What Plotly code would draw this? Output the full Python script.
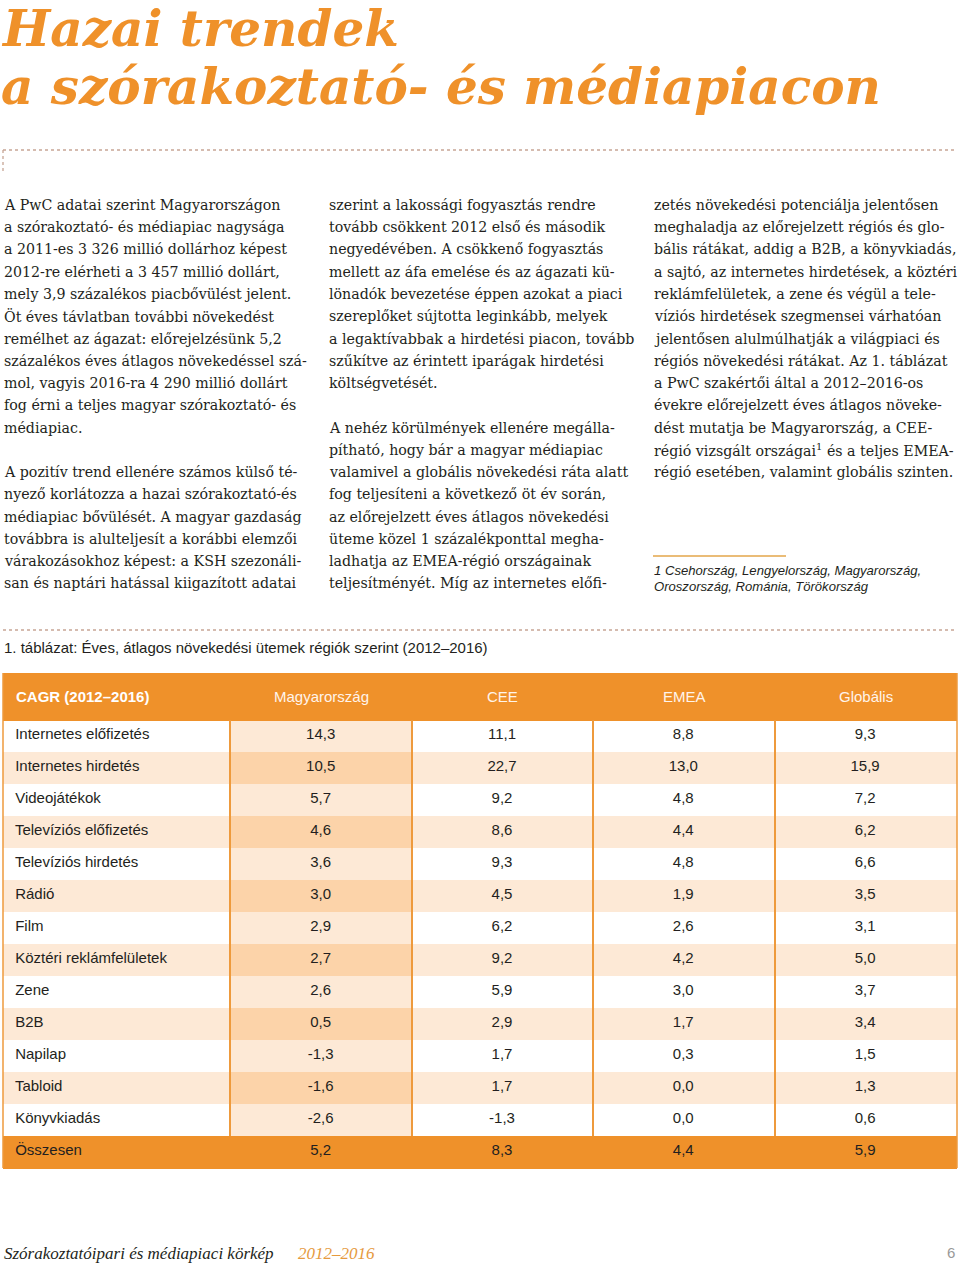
import plotly.graph_objects as go

W, H = 960, 1265

# ---------------- data ----------------
categories = ["Internetes előfizetés", "Internetes hirdetés", "Videojátékok",
              "Televíziós előfizetés", "Televíziós hirdetés", "Rádió", "Film",
              "Köztéri reklámfelületek", "Zene", "B2B", "Napilap", "Tabloid",
              "Könyvkiadás", "Összesen"]
hungary = [14.3, 10.5, 5.7, 4.6, 3.6, 3.0, 2.9, 2.7, 2.6, 0.5, -1.3, -1.6, -2.6, 5.2]
cee = [11.1, 22.7, 9.2, 8.6, 9.3, 4.5, 6.2, 9.2, 5.9, 2.9, 1.7, 1.7, -1.3, 8.3]
emea = [8.8, 13.0, 4.8, 4.4, 4.8, 1.9, 2.6, 4.2, 3.0, 1.7, 0.3, 0.0, 0.0, 4.4]
globalis = [9.3, 15.9, 7.2, 6.2, 6.6, 3.5, 3.1, 5.0, 3.7, 3.4, 1.5, 1.3, 0.6, 5.9]
header_labels = ["CAGR (2012–2016)", "Magyarország", "CEE", "EMEA", "Globális"]

title_lines = ["Hazai trendek", "a szórakoztató- és médiapiacon"]
caption = "1. táblázat: Éves, átlagos növekedési ütemek régiók szerint (2012–2016)"

col1_lines = [
    "A PwC adatai szerint Magyarországon",
    "a szórakoztató- és médiapiac nagysága",
    "a 2011-es 3 326 millió dollárhoz képest",
    "2012-re elérheti a 3 457 millió dollárt,",
    "mely 3,9 százalékos piacbővülést jelent.",
    "Öt éves távlatban további növekedést",
    "remélhet az ágazat: előrejelzésünk 5,2",
    "százalékos éves átlagos növekedéssel szá-",
    "mol, vagyis 2016-ra 4 290 millió dollárt",
    "fog érni a teljes magyar szórakoztató- és",
    "médiapiac.",
    "",
    "A pozitív trend ellenére számos külső té-",
    "nyező korlátozza a hazai szórakoztató-és",
    "médiapiac bővülését. A magyar gazdaság",
    "továbbra is alulteljesít a korábbi elemzői",
    "várakozásokhoz képest: a KSH szezonáli-",
    "san és naptári hatással kiigazított adatai",
]
col2_lines = [
    "szerint a lakossági fogyasztás rendre",
    "tovább csökkent 2012 első és második",
    "negyedévében. A csökkenő fogyasztás",
    "mellett az áfa emelése és az ágazati kü-",
    "lönadók bevezetése éppen azokat a piaci",
    "szereplőket sújtotta leginkább, melyek",
    "a legaktívabbak a hirdetési piacon, tovább",
    "szűkítve az érintett iparágak hirdetési",
    "költségvetését.",
    "",
    "A nehéz körülmények ellenére megálla-",
    "pítható, hogy bár a magyar médiapiac",
    "valamivel a globális növekedési ráta alatt",
    "fog teljesíteni a következő öt év során,",
    "az előrejelzett éves átlagos növekedési",
    "üteme közel 1 százalékponttal megha-",
    "ladhatja az EMEA-régió országainak",
    "teljesítményét. Míg az internetes előfi-",
]
col3_lines = [
    "zetés növekedési potenciálja jelentősen",
    "meghaladja az előrejelzett régiós és glo-",
    "bális rátákat, addig a B2B, a könyvkiadás,",
    "a sajtó, az internetes hirdetések, a köztéri",
    "reklámfelületek, a zene és végül a tele-",
    "víziós hirdetések szegmensei várhatóan",
    "jelentősen alulmúlhatják a világpiaci és",
    "régiós növekedési rátákat. Az 1. táblázat",
    "a PwC szakértői által a 2012–2016-os",
    "évekre előrejelzett éves átlagos növeke-",
    "dést mutatja be Magyarország, a CEE-",
    "régió vizsgált országai<sup>1</sup> és a teljes EMEA-",
    "régió esetében, valamint globális szinten.",
]
footnote_lines = ["1 Csehország, Lengyelország, Magyarország,",
                  "Oroszország, Románia, Törökország"]
footer_title = "Szórakoztatóipari és médiapiaci körkép"
footer_years = "2012–2016"
page_number = "6"

# ---------------- styling ----------------
ORANGE = "#EF912A"
LINE_OR = "#EE9A3C"
PEACH = "#FDE9D6"
PEACH_DK = "#FCD3A9"
WHITE = "#FFFFFF"
TEXT = "#231F20"
SERIF = "DejaVu Serif"
SANS = "Liberation Sans"


def px(x):
    return x / W


def py(y):
    return 1 - y / H


def fmt(v):
    return f"{v:.1f}".replace(".", ",")


n = len(categories)
fills = [[], [], [], [], []]
for i in range(n):
    if i == n - 1:
        for c in range(5):
            fills[c].append(ORANGE)
    elif i % 2 == 0:
        fills[0].append(WHITE)
        fills[1].append(PEACH)
        for c in (2, 3, 4):
            fills[c].append(WHITE)
    else:
        fills[0].append(PEACH)
        fills[1].append(PEACH_DK)
        for c in (2, 3, 4):
            fills[c].append(PEACH)

tbl_left, tbl_right = 3, 957
tbl_top, header_h, row_h = 673, 47, 32
body_top = tbl_top + header_h
tbl_bottom = body_top + row_h * n
col_w = [227, 182, 181, 182, 182]

fig = go.Figure()
fig.add_trace(go.Table(
    domain=dict(x=[px(tbl_left), px(tbl_right)], y=[py(tbl_bottom + 2), py(tbl_top)]),
    columnwidth=col_w,
    header=dict(values=["", "", "", "", ""], height=header_h,
                fill_color=ORANGE, line=dict(color=ORANGE, width=1)),
    cells=dict(
        values=[[" " + c for c in categories],
                [fmt(v) for v in hungary], [fmt(v) for v in cee],
                [fmt(v) for v in emea], [fmt(v) for v in globalis]],
        height=row_h,
        align=["left", "center", "center", "center", "center"],
        fill=dict(color=fills),
        line=dict(color=fills, width=1),
        font=dict(family=SANS, size=15, color=TEXT),
    ),
))

annotations = []
shapes = []

# title
title_y = [29, 86]
for t, y in zip(title_lines, title_y):
    annotations.append(dict(x=px(-1), y=py(y), xref="paper", yref="paper",
                            xanchor="left", yanchor="middle", showarrow=False,
                            text=f"<b><i>{t}</i></b>",
                            font=dict(family=SERIF, size=50, color=ORANGE)))

# dotted rules
DOT = "#C7A595"
shapes.append(dict(type="line", xref="paper", yref="paper", x0=px(3), x1=px(957),
                   y0=py(150), y1=py(150), line=dict(color=DOT, width=1.3, dash="dot")))
shapes.append(dict(type="line", xref="paper", yref="paper", x0=px(3), x1=px(3),
                   y0=py(150), y1=py(172), line=dict(color=DOT, width=1.3, dash="dot")))
shapes.append(dict(type="line", xref="paper", yref="paper", x0=px(3), x1=px(957),
                   y0=py(630), y1=py(630), line=dict(color=DOT, width=1.3, dash="dot")))

# body text
LINE0, PITCH = 205, 22.25
for x0, lines in ((2, col1_lines), (327, col2_lines), (652, col3_lines)):
    for i, t in enumerate(lines):
        if not t:
            continue
        annotations.append(dict(x=px(x0), y=py(LINE0 + PITCH * i), xref="paper", yref="paper",
                                xanchor="left", yanchor="middle", showarrow=False,
                                text=t, font=dict(family=SERIF, size=14.2, color=TEXT)))

# footnote
shapes.append(dict(type="line", xref="paper", yref="paper", x0=px(653), x1=px(786),
                   y0=py(556), y1=py(556), line=dict(color="#E3A64A", width=1.5)))
for i, t in enumerate(footnote_lines):
    annotations.append(dict(x=px(652), y=py(570 + 16 * i), xref="paper", yref="paper",
                            xanchor="left", yanchor="middle", showarrow=False,
                            text=f"<i>{t}</i>", font=dict(family=SANS, size=13.1, color=TEXT)))

# caption
annotations.append(dict(x=px(2), y=py(647), xref="paper", yref="paper",
                        xanchor="left", yanchor="middle", showarrow=False,
                        text=caption, font=dict(family=SANS, size=15, color=TEXT)))

# table header labels
col_edges = [tbl_left]
for w in col_w:
    col_edges.append(col_edges[-1] + w)
for c, lab in enumerate(header_labels):
    if c == 0:
        annotations.append(dict(x=px(14), y=py(tbl_top + header_h / 2), xref="paper", yref="paper",
                                xanchor="left", yanchor="middle", showarrow=False,
                                text=f"<b>{lab}</b>", font=dict(family=SANS, size=15, color=WHITE)))
    else:
        xc = (col_edges[c] + col_edges[c + 1]) / 2
        annotations.append(dict(x=px(xc), y=py(tbl_top + header_h / 2), xref="paper", yref="paper",
                                xanchor="center", yanchor="middle", showarrow=False,
                                text=lab, font=dict(family=SANS, size=15, color="#FFF4EA")))

# vertical separators / borders
for xe in col_edges[1:-1]:
    shapes.append(dict(type="line", xref="paper", yref="paper", x0=px(xe), x1=px(xe),
                       y0=py(body_top), y1=py(tbl_bottom - row_h), line=dict(color=LINE_OR, width=2)))
for xe in (tbl_left, tbl_right):
    shapes.append(dict(type="line", xref="paper", yref="paper", x0=px(xe), x1=px(xe),
                       y0=py(tbl_top), y1=py(tbl_bottom), line=dict(color=LINE_OR, width=1.5)))

# footer
annotations.append(dict(x=px(2), y=py(1253), xref="paper", yref="paper",
                        xanchor="left", yanchor="middle", showarrow=False,
                        text=f"<i>{footer_title}</i>",
                        font=dict(family="Liberation Serif", size=17, color=TEXT)))
annotations.append(dict(x=px(296), y=py(1253), xref="paper", yref="paper",
                        xanchor="left", yanchor="middle", showarrow=False,
                        text=f"<i>{footer_years}</i>",
                        font=dict(family="Liberation Serif", size=17, color="#E69A3E")))
annotations.append(dict(x=px(957), y=py(1252), xref="paper", yref="paper",
                        xanchor="right", yanchor="middle", showarrow=False,
                        text=page_number, font=dict(family=SANS, size=15, color="#999999")))

fig.update_layout(width=W, height=H, margin=dict(l=0, r=0, t=0, b=0),
                  paper_bgcolor="white", plot_bgcolor="white",
                  annotations=annotations, shapes=shapes, showlegend=False)
fig.write_html("out.html", config={"displayModeBar": False},
               post_script="document.body.style.margin='0';document.body.style.overflow='hidden';")
